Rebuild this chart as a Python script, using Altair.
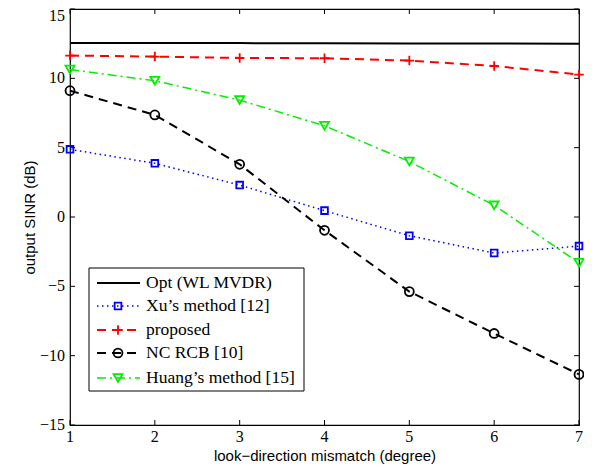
import altair as alt
import pandas as pd

x_vals = [1, 2, 3, 4, 5, 6, 7]
opt = [12.55, 12.55, 12.54, 12.53, 12.52, 12.51, 12.5]
xu = [4.88, 3.87, 2.3, 0.46, -1.35, -2.6, -2.1]
proposed = [11.64, 11.57, 11.47, 11.45, 11.28, 10.89, 10.27]
ncrcb = [9.11, 7.36, 3.8, -0.96, -5.38, -8.4, -11.35]
huang = [10.63, 9.83, 8.43, 6.58, 4.0, 0.84, -3.3]

labels = ["Opt (WL MVDR)", "Xu\u2019s method [12]", "proposed", "NC RCB [10]", "Huang\u2019s method [15]"]
x_ticks = [1, 2, 3, 4, 5, 6, 7]
x_tick_labels = ["1", "2", "3", "4", "5", "6", "7"]
y_ticks = [-15, -10, -5, 0, 5, 10, 15]
y_tick_labels = ["\u221215", "\u221210", "\u22125", "0", "5", "10", "15"]

W, H = 509, 416
PLUS = "M-1,0L1,0M0,-1L0,1"

series = [
    # values, color, dash, shape, width, marker size
    (opt, "#000000", None, None, 2.0, 0),
    (xu, "#0000ff", [1.5, 3.5], "square", 1.5, 45),
    (proposed, "#ff0000", [9, 6], PLUS, 2.0, 90),
    (ncrcb, "#000000", [9, 6], "circle", 2.0, 80),
    (huang, "#00f000", [9, 4, 2, 4], "triangle-down", 1.5, 80),
]

xs = alt.Scale(domain=[1, 7], nice=False, zero=False)
ys = alt.Scale(domain=[-15, 15], nice=False, zero=False)

x_axis = alt.Axis(values=x_ticks, title="look\u2212direction mismatch (degree)",
                  labels=False, titlePadding=23)
y_axis = alt.Axis(values=y_ticks, title="output SINR (dB)", labels=False, titlePadding=33)


def X(f):
    return alt.X(f, scale=xs, axis=x_axis)


def Y(f):
    return alt.Y(f, scale=ys, axis=y_axis)


layers = []
for vals, color, dash, shape, lw, msize in series:
    df = pd.DataFrame({"x": x_vals, "y": vals})
    base = alt.Chart(df)
    mark_kwargs = dict(color=color, strokeWidth=lw)
    if dash:
        mark_kwargs["strokeDash"] = dash
    layers.append(base.mark_line(**mark_kwargs).encode(x=X("x:Q"), y=Y("y:Q")))
    if shape:
        layers.append(base.mark_point(shape=shape, color=color, filled=False, strokeWidth=1.8,
                                      size=msize, opacity=1).encode(x=X("x:Q"), y=Y("y:Q")))

# inward ticks
xt = pd.DataFrame({"x": x_ticks, "lab": x_tick_labels})
yt = pd.DataFrame({"y": y_ticks, "lab": y_tick_labels})
TL = 5
layers.append(alt.Chart(xt).mark_rule(color="black", strokeWidth=1).encode(
    x=X("x:Q"), y=alt.value(0), y2=alt.value(TL)))
layers.append(alt.Chart(xt).mark_rule(color="black", strokeWidth=1).encode(
    x=X("x:Q"), y=alt.value(H), y2=alt.value(H - TL)))
layers.append(alt.Chart(yt).mark_rule(color="black", strokeWidth=1).encode(
    y=Y("y:Q"), x=alt.value(0), x2=alt.value(TL)))
layers.append(alt.Chart(yt).mark_rule(color="black", strokeWidth=1).encode(
    y=Y("y:Q"), x=alt.value(W), x2=alt.value(W - TL)))

# tick labels (serif, as in the reference)
layers.append(alt.Chart(xt).mark_text(align="center", baseline="top", font="Liberation Serif",
                                       fontSize=16, color="black").encode(
    x=X("x:Q"), y=alt.value(H + 4), text="lab:N"))
layers.append(alt.Chart(yt[yt["y"] < 15]).mark_text(align="right", baseline="middle",
                                                     font="Liberation Serif", fontSize=16,
                                                     color="black").encode(
    y=Y("y:Q"), x=alt.value(-5), text="lab:N"))
layers.append(alt.Chart(yt[yt["y"] == 15]).mark_text(align="right", baseline="middle", dy=7,
                                                      font="Liberation Serif", fontSize=16,
                                                      color="black").encode(
    y=Y("y:Q"), x=alt.value(-5), text="lab:N"))

# manual legend
one = pd.DataFrame({"a": [0]})
layers.append(alt.Chart(one).mark_rect(fill="white", stroke="black", strokeWidth=1).encode(
    x=alt.value(19), x2=alt.value(234), y=alt.value(259), y2=alt.value(382)))
row_y = [274, 297, 321, 344, 369]
for (vals, color, dash, shape, lw, msize), lab, ry in zip(series, labels, row_y):
    mk = dict(color=color, strokeWidth=lw)
    if dash:
        mk["strokeDash"] = dash
    layers.append(alt.Chart(one).mark_rule(**mk).encode(
        x=alt.value(27), x2=alt.value(70), y=alt.value(ry)))
    if shape:
        layers.append(alt.Chart(one).mark_point(shape=shape, color=color, filled=False,
                                                 strokeWidth=1.8, size=msize, opacity=1).encode(
            x=alt.value(48), y=alt.value(ry)))
    layers.append(alt.Chart(one).mark_text(align="left", baseline="middle",
                                            font="Liberation Serif", fontSize=17.5,
                                            color="black").encode(
        x=alt.value(76), y=alt.value(ry), text=alt.value(lab)))

chart = alt.layer(*layers).properties(
    width=W, height=H,
    background="white",
    autosize=alt.AutoSizeParams(type="none"),
    padding={"left": 62, "top": 1, "right": 5, "bottom": 47},
).configure_view(stroke="black", strokeWidth=1.2).configure_axis(
    ticks=False, domain=False, grid=False,
    titleFont="Liberation Sans", titleFontSize=15, titleFontWeight="normal",
    titleColor="black",
)

chart.save("out.html", embed_options={"renderer": "svg", "actions": False})
